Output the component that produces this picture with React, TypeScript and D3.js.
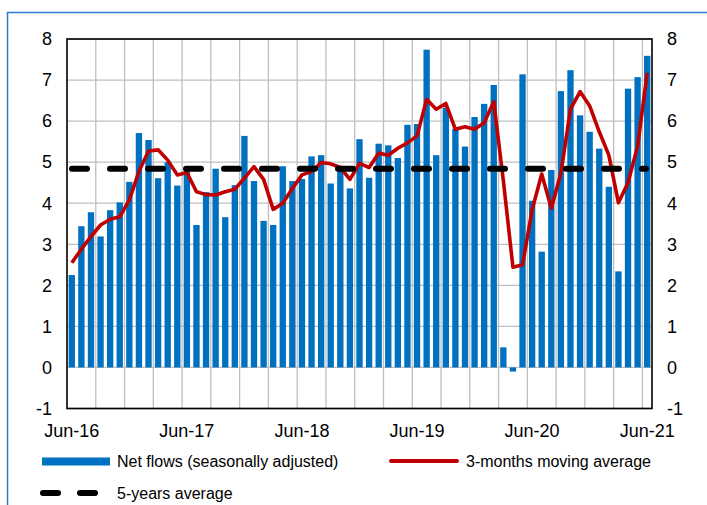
import React from 'react'
import * as d3 from 'd3'

// monthly, Jun-16 .. Jun-21
const months = d3.timeMonths(new Date(2016, 5, 1), new Date(2021, 6, 1))
const categories = months.map(d3.timeFormat('%b-%y'))

const netFlows = [
    2.25, 3.44, 3.78, 3.19, 3.83, 4.02, 4.52, 5.71, 5.54, 4.61,
    5.0, 4.43, 4.77, 3.47, 4.27, 4.84, 3.66, 4.44, 5.64, 4.54,
    3.57, 3.47, 4.9, 4.54, 4.59, 5.14, 5.17, 4.48, 4.91, 4.36,
    5.56, 4.62, 5.45, 5.41, 5.1, 5.91, 5.93, 7.74, 5.17, 6.33,
    5.81, 5.38, 6.1, 6.42, 6.88, 0.49, -0.1, 7.14, 4.06, 2.82,
    4.81, 6.73, 7.24, 6.14, 5.74, 5.33, 4.4, 2.34, 6.79, 7.07, 7.59,
]

const movingAvg = [
    2.55, 2.88, 3.19, 3.47, 3.61, 3.67, 4.08, 4.77, 5.27, 5.3,
    5.05, 4.69, 4.75, 4.28, 4.21, 4.2, 4.28, 4.34, 4.61, 4.89,
    4.58, 3.85, 4.0, 4.36, 4.69, 4.77, 4.99, 4.96, 4.87, 4.58,
    4.97, 4.87, 5.22, 5.17, 5.34, 5.47, 5.64, 6.53, 6.29, 6.43,
    5.8, 5.86, 5.8, 5.96, 6.47, 4.55, 2.44, 2.5, 3.84, 4.71,
    3.88, 4.73, 6.29, 6.72, 6.37, 5.74, 5.17, 4.01, 4.5, 5.39, 7.18,
]

const fiveYearAvg = 4.84

const xTickLabels = ['Jun-16', 'Jun-17', 'Jun-18', 'Jun-19', 'Jun-20', 'Jun-21']
const yTicks = [-1, 0, 1, 2, 3, 4, 5, 6, 7, 8]

const W = 707, H = 505
const plot = { left: 67, right: 652, top: 39, bottom: 408.5 }
const FONT = '"Liberation Sans", Arial, sans-serif'
const BLUE = '#0070c0', RED = '#c00000'

const App = () => {
    const x = d3.scaleBand<string>()
        .domain(categories)
        .range([plot.left, plot.right])
        .paddingInner(0.34)
        .paddingOuter(0.17)
    const y = d3.scaleLinear().domain([-1, 8]).range([plot.bottom, plot.top])

    const step = x.step()
    const bw = x.bandwidth()
    const cx = (c: string) => (x(c) as number) + bw / 2

    // vertical gridlines every 3 months, on category boundaries
    const vGrid = categories
        .map((c, i) => ({ c, i }))
        .filter(d => d.i > 0 && d.i % 3 === 0)
        .map(d => (x(d.c) as number) - (step - bw) / 2)

    const line = d3.line<number>()
        .x((_, i) => cx(categories[i]))
        .y(d => y(d))

    return (
        <svg width={W} height={H} style={{ position: 'absolute', left: 0, top: 0, display: 'block' }}
            fontFamily={FONT}>
            <rect width={W} height={H} fill="#fff" />
            {/* outer frame */}
            <path d={`M7.5,${H} V12.5 H${W}`} fill="none" stroke="#2a7fcf" strokeWidth={1.5} />

            {/* gridlines */}
            {yTicks.map(t => (
                <line key={'h' + t} x1={plot.left} x2={plot.right} y1={y(t)} y2={y(t)}
                    stroke="#bfbfbf" strokeWidth={1.3} />
            ))}
            {vGrid.map((gx, i) => (
                <line key={'v' + i} x1={gx} x2={gx} y1={plot.top} y2={plot.bottom}
                    stroke="#bfbfbf" strokeWidth={1.3} />
            ))}

            {/* bars */}
            {netFlows.map((v, i) => (
                <rect key={'b' + i} x={x(categories[i])} width={bw}
                    y={Math.min(y(v), y(0))} height={Math.abs(y(v) - y(0))} fill={BLUE} />
            ))}

            {/* moving average */}
            <path d={line(movingAvg) || ''} fill="none" stroke={RED} strokeWidth={3.6}
                strokeLinejoin="round" />

            {/* 5-year average */}
            <line x1={plot.left + 5} x2={plot.right - 6} y1={y(fiveYearAvg)} y2={y(fiveYearAvg)}
                stroke="#000" strokeWidth={6} strokeDasharray="15 23" strokeLinecap="round" />

            {/* plot frame */}
            <rect x={plot.left} y={plot.top} width={plot.right - plot.left} height={plot.bottom - plot.top}
                fill="none" stroke="#000" strokeWidth={1.6} />

            {/* y labels */}
            {yTicks.map(t => (
                <g key={'yl' + t} fontSize={18} fill="#000">
                    <text x={52} y={y(t)} dy="0.35em" textAnchor="end">{t}</text>
                    <text x={667} y={y(t)} dy="0.35em" textAnchor="start">{t}</text>
                </g>
            ))}

            {/* x labels */}
            {xTickLabels.map(l => (
                <text key={l} x={cx(l)} y={436.5} textAnchor="middle" fontSize={18}>{l}</text>
            ))}

            {/* legend */}
            <g fontSize={16} fill="#000">
                <rect x={42} y={457.5} width={68} height={8} fill={BLUE} />
                <text x={117} y={466.5}>Net flows (seasonally adjusted)</text>
                <line x1={391} x2={457} y1={461} y2={461} stroke={RED} strokeWidth={4} strokeLinecap="round" />
                <text x={466} y={466.5}>3-months moving average</text>
                <line x1={43} x2={58} y1={493} y2={493} stroke="#000" strokeWidth={6} strokeLinecap="round" />
                <line x1={80} x2={95} y1={493} y2={493} stroke="#000" strokeWidth={6} strokeLinecap="round" />
                <text x={117} y={499}>5-years average</text>
            </g>
        </svg>
    )
}

export default App
